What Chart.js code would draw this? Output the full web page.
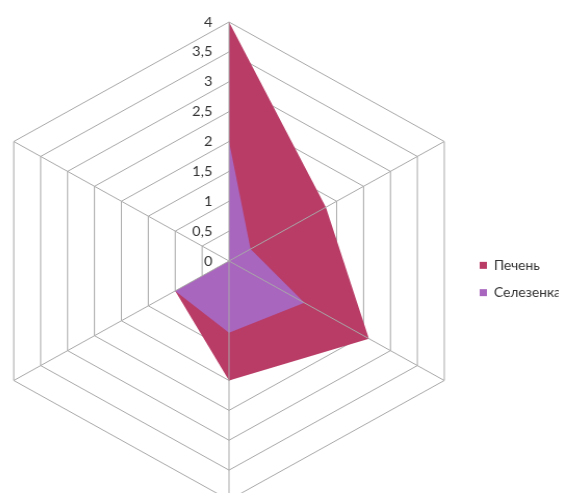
<!DOCTYPE html>
<html>
<head>
<meta charset="utf-8">
<script src="https://cdn.jsdelivr.net/npm/chart.js@4.4.1/dist/chart.umd.min.js"></script>
<style>
    html, body { margin: 0; padding: 0; background: #fff; overflow: hidden; }
    body { width: 566px; height: 493px; position: relative; }
    /* the original radar is a bit wider than tall, so stretch it around its centre */
    #wrap { position: absolute; left: -30px; top: 0; width: 620px; height: 520px;
            transform: scaleX(1.04); transform-origin: 259px 0; }
</style>
</head>
<body>
<div id="wrap"><canvas id="radarChart" width="620" height="520"></canvas></div>
<script>
// Данные диаграммы
const categories = ['1', '2', '3', '4', '5', '6'];
const seriesNames = ['Печень', 'Селезенка'];
const liverValues = [4, 1.8, 2.6, 2, 1, 0];
const spleenValues = [2, 0.4, 1.4, 1.2, 1, 0];
const tickValues = [0, 0.5, 1, 1.5, 2, 2.5, 3, 3.5, 4];

const seriesColors = ['#B93C67', '#A966BF'];
const gridColor = '#a8a8a8';
const textColor = '#333';

Chart.defaults.font.family = 'Lato, "Open Sans", sans-serif';
Chart.defaults.font.size = 14;

// Spokes are drawn over the filled areas, like in Excel
const spokes = {
    id: 'spokes',
    afterDatasetsDraw(chart) {
        const scale = chart.scales.r;
        const ctx = chart.ctx;
        ctx.save();
        ctx.strokeStyle = gridColor;
        ctx.lineWidth = 1;
        categories.forEach((c, i) => {
            const p = scale.getPointPositionForValue(i, scale.max);
            ctx.beginPath();
            ctx.moveTo(scale.xCenter, scale.yCenter);
            ctx.lineTo(p.x, p.y);
            ctx.stroke();
        });
        ctx.restore();
    }
};

// Tick labels sit to the left of the vertical axis (0 included)
const tickLabels = {
    id: 'tickLabels',
    afterDatasetsDraw(chart) {
        const scale = chart.scales.r;
        const ctx = chart.ctx;
        ctx.save();
        ctx.font = '14px Lato, "Open Sans", sans-serif';
        ctx.fillStyle = textColor;
        ctx.textAlign = 'right';
        ctx.textBaseline = 'middle';
        scale.ticks.forEach(t => {
            const y = scale.yCenter - scale.getDistanceFromCenterForValue(t.value);
            ctx.fillText(t.label, scale.xCenter - 16, y);
        });
        ctx.restore();
    }
};

// Move the legend a little closer to the chart and down
const legendShift = {
    id: 'legendShift',
    afterLayout(chart) {
        const lg = chart.legend;
        const w = lg.right - lg.left;
        lg.left = 486;
        lg.right = lg.left + w;
        lg.top += 18;
        lg.bottom += 18;
    }
};

const ctx = document.getElementById('radarChart').getContext('2d');
new Chart(ctx, {
    type: 'radar',
    data: {
        labels: categories,
        datasets: [
            {
                label: seriesNames[0],
                data: liverValues,
                backgroundColor: seriesColors[0],
                borderColor: seriesColors[0],
                borderWidth: 0,
                fill: true,
                order: 2
            },
            {
                label: seriesNames[1],
                data: spleenValues,
                backgroundColor: seriesColors[1],
                borderColor: seriesColors[1],
                borderWidth: 0,
                fill: true,
                order: 1
            }
        ]
    },
    options: {
        responsive: false,
        animation: false,
        layout: { padding: { left: 19, right: 31, top: 22, bottom: 20 } },
        elements: { point: { radius: 0, hoverRadius: 0 }, line: { tension: 0 } },
        scales: {
            r: {
                min: tickValues[0],
                max: tickValues[tickValues.length - 1],
                angleLines: { display: false },
                grid: { color: gridColor, lineWidth: 1 },
                pointLabels: { display: false },
                ticks: {
                    display: false,
                    stepSize: tickValues[1] - tickValues[0],
                    callback: v => String(v).replace('.', ',')
                }
            }
        },
        plugins: {
            tooltip: { enabled: false },
            legend: {
                position: 'right',
                maxWidth: 90,
                labels: {
                    boxWidth: 7,
                    boxHeight: 7,
                    padding: 14,
                    color: textColor,
                    font: { size: 13.3 },
                    sort: (a, b) => a.datasetIndex - b.datasetIndex
                }
            }
        }
    },
    plugins: [spokes, tickLabels, legendShift]
});
</script>
</body>
</html>
